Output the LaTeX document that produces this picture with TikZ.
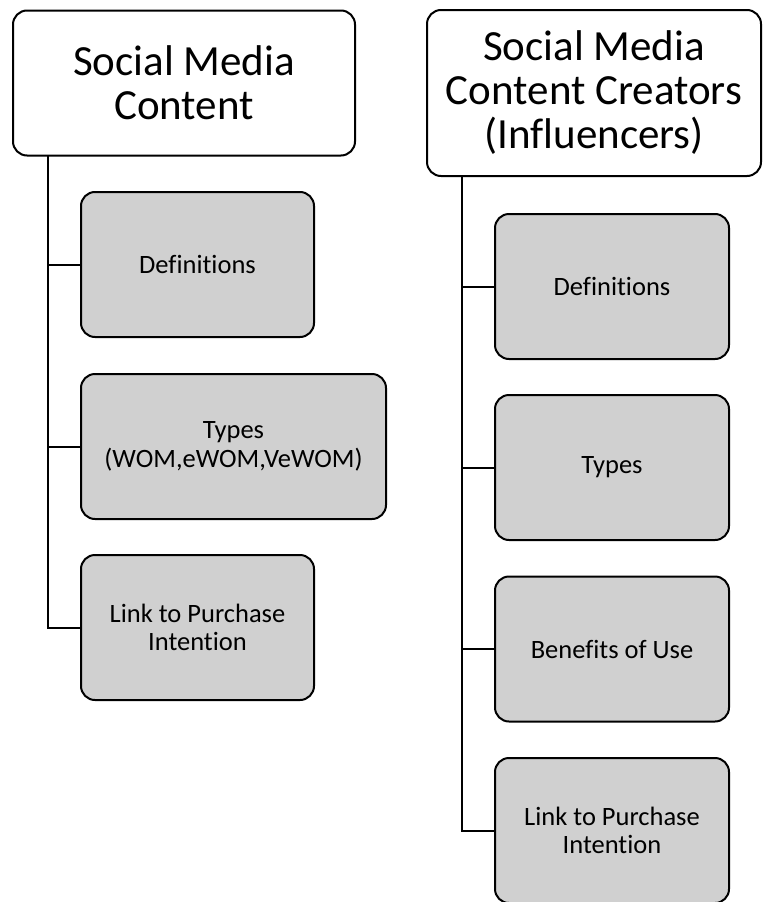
\documentclass[tikz,border=0pt]{standalone}
\usepackage{fontspec}
\setmainfont[Ligatures=NoCommon]{Carlito}
\definecolor{boxfill}{RGB}{208,208,208}
\definecolor{inkline}{RGB}{0,0,0}
\tikzset{
  headbox/.style={draw=inkline, line width=2pt, rounded corners=14pt, fill=white,
    align=center, inner sep=0pt,
    font=\fontsize{43}{44}\selectfont},
  topicbox/.style={draw=inkline, line width=2pt, rounded corners=14pt, fill=boxfill,
    align=center, inner sep=0pt, minimum height=145pt,
    font=\fontsize{26.5}{28.5}\selectfont},
  link/.style={draw=inkline, line width=2pt}
}
\begin{document}
\begin{tikzpicture}[x=1pt, y=-1pt]
  \useasboundingbox (0,0) rectangle (763,902);

  % Left tree: social media content
  \node[headbox, minimum width=342pt, minimum height=145pt] (lh) at (184,83)
    {Social Media\\Content};
  \coordinate (lroot) at (47.7,155.5);
  \node[topicbox, minimum width=233pt] (ldef) at (197.5,264.5) {Definitions};
  \node[topicbox, minimum width=305pt] (ltyp) at (233.5,446.5)
    {Types\\(WOM,eWOM,VeWOM)};
  \node[topicbox, minimum width=233pt] (llnk) at (197.5,627.5)
    {Link to Purchase\\Intention};
  \draw[link] (lroot) |- (llnk.west);
  \draw[link] (ldef.west) -- (ldef.west -| lroot);
  \draw[link] (ltyp.west) -- (ltyp.west -| lroot);

  % Right tree: content creators
  \node[headbox, minimum width=334pt, minimum height=166pt] (rh) at (594,93)
    {Social Media\\Content Creators\\(Influencers)};
  \coordinate (rroot) at (461.7,176);
  \node[topicbox, minimum width=234pt] (rdef) at (612,286.5) {Definitions};
  \node[topicbox, minimum width=234pt] (rtyp) at (612,467.5) {Types};
  \node[topicbox, minimum width=234pt] (rben) at (612,649) {Benefits of Use};
  \node[topicbox, minimum width=234pt] (rlnk) at (612,830.5)
    {Link to Purchase\\Intention};
  \draw[link] (rroot) |- (rlnk.west);
  \draw[link] (rdef.west) -- (rdef.west -| rroot);
  \draw[link] (rtyp.west) -- (rtyp.west -| rroot);
  \draw[link] (rben.west) -- (rben.west -| rroot);
\end{tikzpicture}
\end{document}
